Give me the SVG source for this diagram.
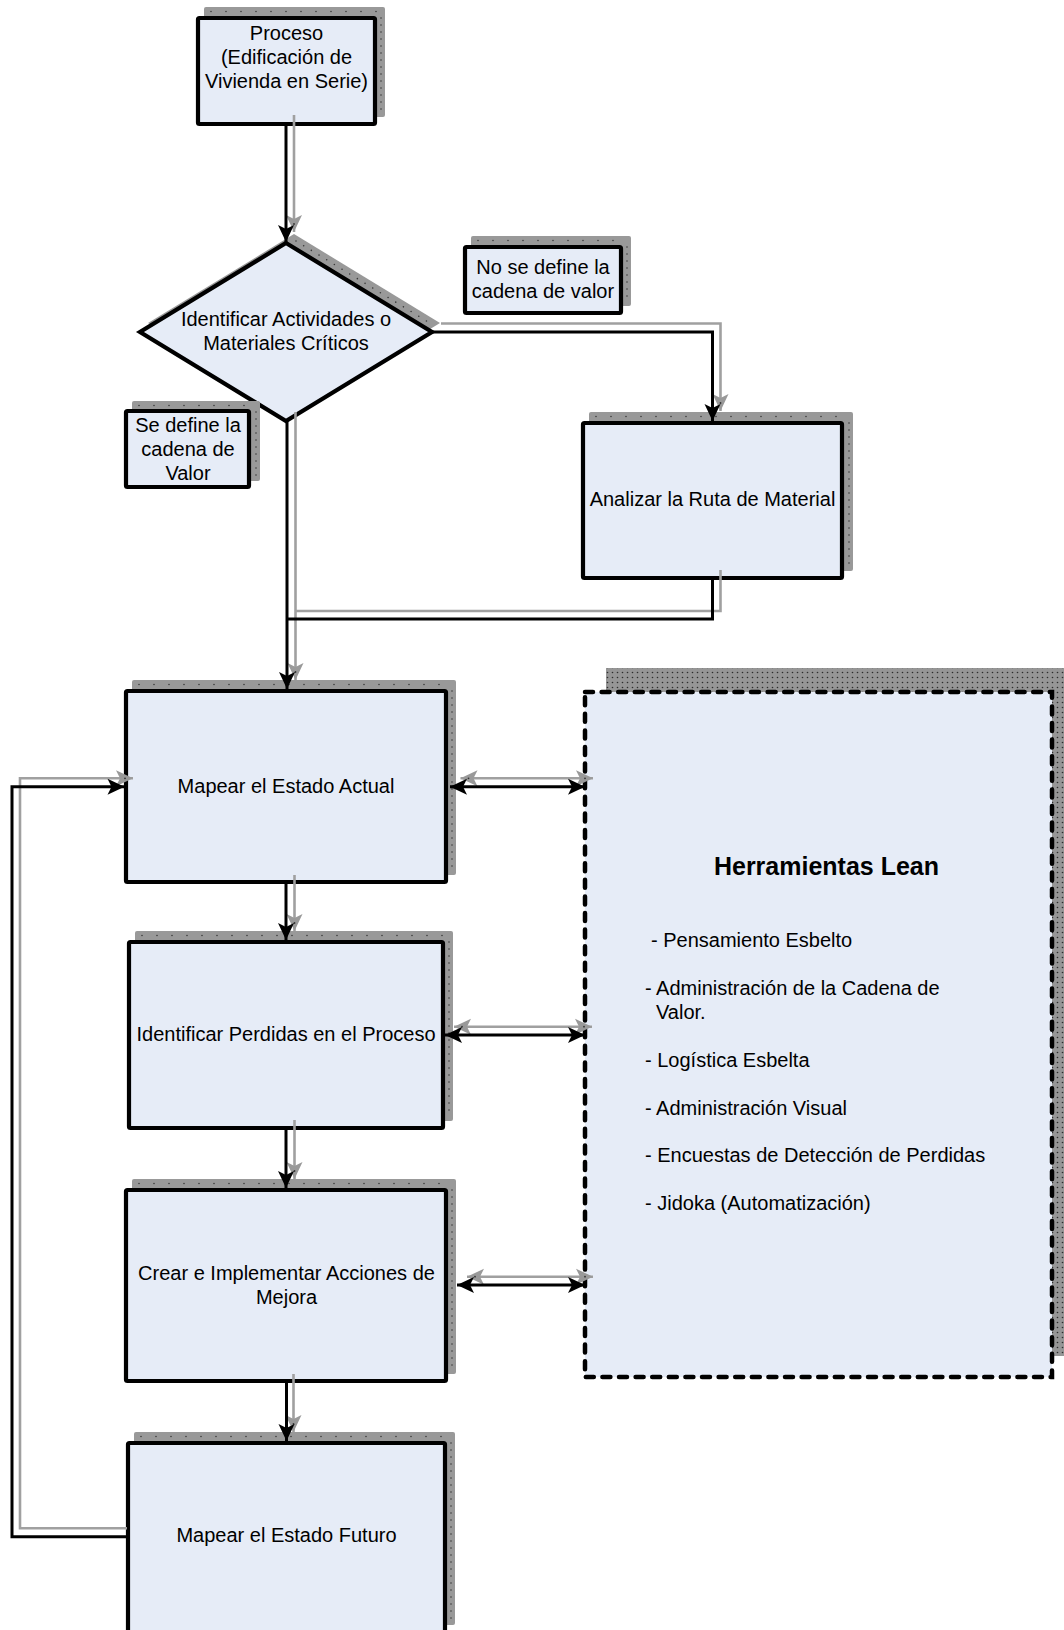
<svg xmlns="http://www.w3.org/2000/svg" width="1064" height="1630" viewBox="0 0 1064 1630">
  <style>
    .box { fill: #E6ECF7; stroke: #000; stroke-width: 4.2; }
    .lean { fill: #E6ECF7; stroke: #000; stroke-width: 4.5; stroke-dasharray: 8 8.6; stroke-linecap: round; }
    .shadow { fill: #999999; }
    .dots-h { fill: none; stroke: #3a3a3a; stroke-width: 1.6; stroke-linecap: round; stroke-dasharray: 0 15; }
    .dots-v { fill: none; stroke: #3a3a3a; stroke-width: 1.6; stroke-linecap: round; stroke-dasharray: 0 7; }
    .lbl { font-family: "Liberation Sans", Arial, sans-serif; font-size: 20px; fill: #000; text-anchor: middle; }
    .item { font-family: "Liberation Sans", Arial, sans-serif; font-size: 20px; fill: #000; }
    .title { font-family: "Liberation Sans", Arial, sans-serif; font-size: 25px; font-weight: bold; fill: #000; text-anchor: middle; }
    .wire { fill: none; stroke: #000; stroke-width: 3; }
    .wire-shadow { fill: none; stroke: #A0A0A0; stroke-width: 2.6; }
    .arrow { marker-end: url(#head); }
    .arrow2 { marker-start: url(#head); marker-end: url(#head); }
    .sarrow { marker-end: url(#headGray); }
    .sarrow2 { marker-start: url(#headGray); marker-end: url(#headGray); }
  </style>
  <defs>
    <marker id="head" markerUnits="userSpaceOnUse" markerWidth="17" markerHeight="16" refX="17" refY="8" orient="auto-start-reverse" overflow="visible">
      <path d="M0,0 L17,8 L0,16 L4,8 z" fill="#000"/>
    </marker>
    <marker id="headGray" markerUnits="userSpaceOnUse" markerWidth="17" markerHeight="16" refX="17" refY="8" orient="auto-start-reverse" overflow="visible">
      <path d="M0,0 L17,8 L0,16 L4,8 z" fill="#999999"/>
      <circle cx="9" cy="8" r="0.9" fill="#333"/>
    </marker>
    <pattern id="denseDots" patternUnits="userSpaceOnUse" width="5" height="5">
      <rect width="5" height="5" fill="#969696"/>
      <circle cx="2.5" cy="2.5" r="0.8" fill="#2e2e2e"/>
    </pattern>
  </defs>

  <rect width="1064" height="1630" fill="#FFFFFF"/>

  <!-- Lean tools panel -->
  <g id="herramientas-lean">
    <rect x="606" y="668" width="467" height="688" fill="url(#denseDots)"/>
    <rect class="lean" x="585" y="692" width="467" height="685"/>
    <text class="title" x="826.5" y="875">Herramientas Lean</text>
    <text class="item" x="651" y="947">- Pensamiento Esbelto</text>
    <text class="item" x="645" y="995">- Administración de la Cadena de</text>
    <text class="item" x="656" y="1019">Valor.</text>
    <text class="item" x="645" y="1067">- Logística Esbelta</text>
    <text class="item" x="645" y="1115">- Administración Visual</text>
    <text class="item" x="645" y="1162">- Encuestas de Detección de Perdidas</text>
    <text class="item" x="645" y="1210">- Jidoka (Automatización)</text>
  </g>

  <g id="proceso">
    <rect class="shadow" x="204" y="7" width="181" height="110" rx="2"/>
    <line class="dots-h" x1="211" y1="11.5" x2="380" y2="11.5"/>
    <line class="dots-v" x1="381" y1="18" x2="381" y2="112"/>
    <rect class="box" x="198" y="18" width="177" height="106" rx="1.5"/>
    <text class="lbl" x="286.5" y="40">Proceso</text>
    <text class="lbl" x="286.5" y="64">(Edificación de</text>
    <text class="lbl" x="286.5" y="88">Vivienda en Serie)</text>
  </g>

  <g id="identificar-actividades">
    <polygon class="shadow" points="294,234 440,323 294,412 148,323"/>
    <line class="dots-h" x1="296" y1="241" x2="433" y2="325" style="stroke-dasharray:0 9"/>
    <polygon class="box" points="286,243 432,332 286,421 140,332" stroke-linejoin="miter"/>
    <text class="lbl" x="286" y="326">Identificar Actividades o</text>
    <text class="lbl" x="286" y="350">Materiales Críticos</text>
  </g>

  <g id="no-se-define">
    <rect class="shadow" x="471" y="236" width="160" height="70" rx="2"/>
    <line class="dots-h" x1="478" y1="240.5" x2="626" y2="240.5"/>
    <line class="dots-v" x1="627" y1="247" x2="627" y2="302"/>
    <rect class="box" x="465" y="247" width="156" height="66" rx="1.5"/>
    <text class="lbl" x="543" y="274">No se define la</text>
    <text class="lbl" x="543" y="298">cadena de valor</text>
  </g>

  <g id="se-define">
    <rect class="shadow" x="132" y="401" width="128" height="80" rx="2"/>
    <line class="dots-h" x1="139" y1="405.5" x2="255" y2="405.5"/>
    <line class="dots-v" x1="256" y1="412" x2="256" y2="477"/>
    <rect class="box" x="126" y="411" width="123" height="76" rx="1.5"/>
    <text class="lbl" x="188" y="432">Se define la</text>
    <text class="lbl" x="188" y="456">cadena de</text>
    <text class="lbl" x="188" y="480">Valor</text>
  </g>

  <g id="analizar-ruta">
    <rect class="shadow" x="589" y="412" width="264" height="159" rx="2"/>
    <line class="dots-h" x1="596" y1="416.5" x2="848" y2="416.5"/>
    <line class="dots-v" x1="849" y1="423" x2="849" y2="567"/>
    <rect class="box" x="583" y="423" width="259" height="155" rx="1.5"/>
    <text class="lbl" x="712.5" y="506">Analizar la Ruta de Material</text>
  </g>

  <g id="mapear-actual">
    <rect class="shadow" x="132" y="680" width="324" height="195" rx="2"/>
    <line class="dots-h" x1="139" y1="684.5" x2="451" y2="684.5"/>
    <line class="dots-v" x1="452" y1="691" x2="452" y2="871"/>
    <rect class="box" x="126" y="691" width="320" height="191" rx="1.5"/>
    <text class="lbl" x="286" y="793">Mapear el Estado Actual</text>
  </g>

  <g id="identificar-perdidas">
    <rect class="shadow" x="135" y="931" width="318" height="190" rx="2"/>
    <line class="dots-h" x1="142" y1="935.5" x2="448" y2="935.5"/>
    <line class="dots-v" x1="449" y1="942" x2="449" y2="1117"/>
    <rect class="box" x="129" y="942" width="314" height="186" rx="1.5"/>
    <text class="lbl" x="286" y="1041">Identificar Perdidas en el Proceso</text>
  </g>

  <g id="crear-acciones">
    <rect class="shadow" x="132" y="1179" width="324" height="195" rx="2"/>
    <line class="dots-h" x1="139" y1="1183.5" x2="451" y2="1183.5"/>
    <line class="dots-v" x1="452" y1="1190" x2="452" y2="1370"/>
    <rect class="box" x="126" y="1190" width="320" height="191" rx="1.5"/>
    <text class="lbl" x="286.5" y="1280">Crear e Implementar Acciones de</text>
    <text class="lbl" x="286.5" y="1303.5">Mejora</text>
  </g>

  <g id="mapear-futuro">
    <rect class="shadow" x="134" y="1432" width="321" height="193" rx="2"/>
    <line class="dots-h" x1="141" y1="1436.5" x2="450" y2="1436.5"/>
    <line class="dots-v" x1="451" y1="1443" x2="451" y2="1621"/>
    <rect class="box" x="128" y="1443" width="317" height="192" rx="1.5"/>
    <text class="lbl" x="286.5" y="1542">Mapear el Estado Futuro</text>
  </g>

  <!-- Connectors: grey offset copy underneath, black line on top -->
  <g id="connectors">
    <path class="wire-shadow sarrow" d="M294,115 V232"/>
    <path class="wire-shadow sarrow" d="M441,323.5 H720.5 V411"/>
    <path class="wire-shadow sarrow" d="M295.5,412 V680"/>
    <path class="wire-shadow" d="M720.5,570 V611 H295.5"/>
    <path class="wire-shadow sarrow" d="M294.5,875 V931"/>
    <path class="wire-shadow sarrow" d="M294.5,1120 V1179"/>
    <path class="wire-shadow sarrow" d="M293.5,1374 V1432"/>
    <path class="wire-shadow sarrow2" d="M460.5,778.3 H593"/>
    <path class="wire-shadow sarrow2" d="M454,1026.7 H592"/>
    <path class="wire-shadow sarrow2" d="M467,1276.7 H593"/>
    <path class="wire-shadow sarrow" d="M127,1528.3 H20 V778.3 H133"/>

    <path class="wire arrow" d="M286,126 V242"/>
    <path class="wire arrow" d="M433,332 H712.5 V421"/>
    <path class="wire arrow" d="M287,421 V689"/>
    <path class="wire" d="M712.5,580 V619 H287"/>
    <path class="wire arrow" d="M286,884 V940"/>
    <path class="wire arrow" d="M286,1130 V1188"/>
    <path class="wire arrow" d="M286.5,1383 V1441"/>
    <path class="wire arrow2" d="M450,786.7 H585"/>
    <path class="wire arrow2" d="M445,1035 H585"/>
    <path class="wire arrow2" d="M457,1285 H585"/>
    <path class="wire arrow" d="M126,1536.7 H12 V786.7 H124.5"/>
  </g>
</svg>
